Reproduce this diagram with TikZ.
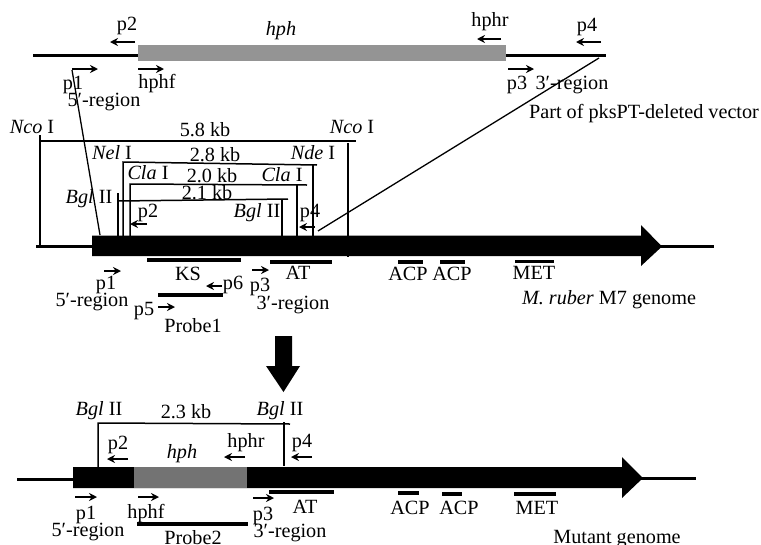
\documentclass[tikz,border=0pt]{standalone}
\usepackage{fontspec}
\setmainfont{Liberation Serif}
\usetikzlibrary{arrows.meta}
\tikzset{
  lab/.style={inner sep=0pt,outer sep=0pt,font=\fontsize{20.2}{21}\selectfont,text height=0.5em,text depth=0em,yshift=-4pt},
  dna/.style={line width=3pt,black},
  seg/.style={line width=3.2pt,black},
  thin line/.style={line width=1.5pt,black},
  prm/.style={line width=1.5pt,-{Stealth[length=8pt,width=8pt]}},
  cross/.style={line width=1.3pt,black},
}
\newcommand\lbl[3]{\node[lab] at (#1,#2) {#3};}
\begin{document}
\begin{tikzpicture}[x=1pt,y=-1pt]
\useasboundingbox (0,0) rectangle (761,544);
\clip (0,0) rectangle (761,544);
% top construct
\draw[dna] (33,55) -- (138,55);
\draw[dna] (506,55) -- (606,55);
\fill[black!42] (138,45) rectangle (506,60.5);
\lbl{127}{24}{p2}\lbl{281}{29}{\textit{hph}}\lbl{490}{20}{hphr}\lbl{587}{25}{p4}
\lbl{73}{83}{p1}\lbl{104}{100}{5′-region}\lbl{157}{82}{hphf}
\lbl{517}{83}{p3}\lbl{572}{83}{3′-region}\lbl{644}{112}{Part of pksPT-deleted vector}
\draw[prm] (135,42) -- (110,42);
\draw[prm] (501,39) -- (477,39);
\draw[prm] (601,42) -- (576,42);
\draw[prm] (72,69) -- (98,69);
\draw[prm] (138,69) -- (164,69);
\draw[prm] (508,69) -- (534,69);
% projection lines
\draw[cross] (72,70) -- (100,235);
\draw[cross] (599,58) -- (318,231);
% restriction labels
\lbl{32}{127}{\textit{Nco} I}\lbl{352}{127}{\textit{Nco} I}\lbl{205}{130}{5.8 kb}
\lbl{112}{153}{\textit{Nel} I}\lbl{313}{153}{\textit{Nde} I}\lbl{215}{155}{2.8 kb}
\lbl{148}{173}{\textit{Cla} I}\lbl{282}{175}{\textit{Cla} I}\lbl{212}{176}{2.0 kb}
\lbl{89}{197}{\textit{Bgl} II}\lbl{257}{211}{\textit{Bgl} II}\lbl{207}{193}{2.1 kb}
\lbl{148}{211}{p2}\lbl{310}{211}{p4}
% restriction brackets
\draw[thin line] (40,135) -- (40,246);
\draw[thin line] (40,141) -- (356,141);
\draw[thin line] (348,143) -- (348,257);
\draw[thin line] (123,236) -- (123,162) -- (317,165);
\draw[thin line] (313,165) -- (313,236);
\draw[thin line] (130,236) -- (130,184) -- (307,185);
\draw[thin line] (297,185) -- (297,236);
\draw[thin line] (118,236) -- (118,193);
\draw[thin line] (118,201) -- (288,199);
\draw[thin line] (282,199) -- (282,236);
\draw[prm] (147,224) -- (130,224);
\draw[prm] (315,227) -- (299,227);
% M7 genome
\draw[dna] (36,246.5) -- (92,246.5);
\draw[dna] (655,246.5) -- (714,246.5);
\fill (92,235.5) -- (641,235.5) -- (641,225) -- (662,246.5) -- (641,266) -- (641,256) -- (92,256) -- cycle;
% features
\draw[seg] (147,260) -- (241,260);
\draw[seg] (270,262) -- (332,262);
\draw[seg] (398,262) -- (423,262);
\draw[seg] (440,262) -- (465,262);
\draw[seg] (515,261.5) -- (554,261.5);
\draw[seg] (158,295) -- (223,295);
\lbl{188}{274}{KS}\lbl{298}{273}{AT}\lbl{408}{274}{ACP}\lbl{452}{274}{ACP}\lbl{534}{273}{MET}
\lbl{609}{298}{\textit{M. ruber} M7 genome}
\lbl{106}{283}{p1}\lbl{92}{300}{5′-region}\lbl{260}{285}{p3}\lbl{293}{303}{3′-region}
\lbl{233}{283}{p6}\lbl{144}{309}{p5}\lbl{193}{326}{Probe1}
\draw[prm] (104,271) -- (121,271);
\draw[prm] (252,270) -- (269,270);
\draw[prm] (222,286) -- (206,286);
\draw[prm] (158,307) -- (175,307);
% big arrow
\fill (275,336) -- (292,336) -- (292,366) -- (300,366) -- (283.5,392) -- (266,366) -- (275,366) -- cycle;
% mutant genome
\draw[dna] (17,479) -- (73,479);
\draw[dna] (636,478.5) -- (696,478.5);
\fill (73,467) -- (622,467) -- (622,457) -- (643,478) -- (622,498) -- (622,488) -- (73,488) -- cycle;
\fill[black!55] (134,466.5) rectangle (247,488);
\lbl{99}{409}{\textit{Bgl} II}\lbl{280}{409}{\textit{Bgl} II}\lbl{186}{412}{2.3 kb}
\draw[thin line] (98,467) -- (98,423) -- (290,424);
\draw[line width=1.8pt] (284,422) -- (284,466);
\lbl{118}{443}{p2}\lbl{182}{452}{\textit{hph}}\lbl{246}{441}{hphr}\lbl{302}{441}{p4}
\draw[prm] (128,459) -- (107,459);
\draw[prm] (245,457) -- (224,457);
\draw[prm] (312,457) -- (291,457);
\draw[prm] (75,497) -- (97,497);
\draw[prm] (138,497) -- (159,497);
\draw[prm] (253,498) -- (274,498);
\lbl{86}{513}{p1}\lbl{88}{530}{5′-region}\lbl{146}{512}{hphf}\lbl{263}{514}{p3}\lbl{290}{531}{3′-region}
\lbl{305}{507}{AT}\lbl{193}{538}{Probe2}
\draw[seg] (269,492) -- (334,492);
\draw[seg] (137,524) -- (248,524);
\draw[seg] (398,493) -- (419,493);
\draw[seg] (442,494) -- (462,494);
\draw[seg] (514,494) -- (556,494);
\lbl{410}{508}{ACP}\lbl{459}{508}{ACP}\lbl{537}{508}{MET}\lbl{617}{537}{Mutant genome}
\end{tikzpicture}
\end{document}
